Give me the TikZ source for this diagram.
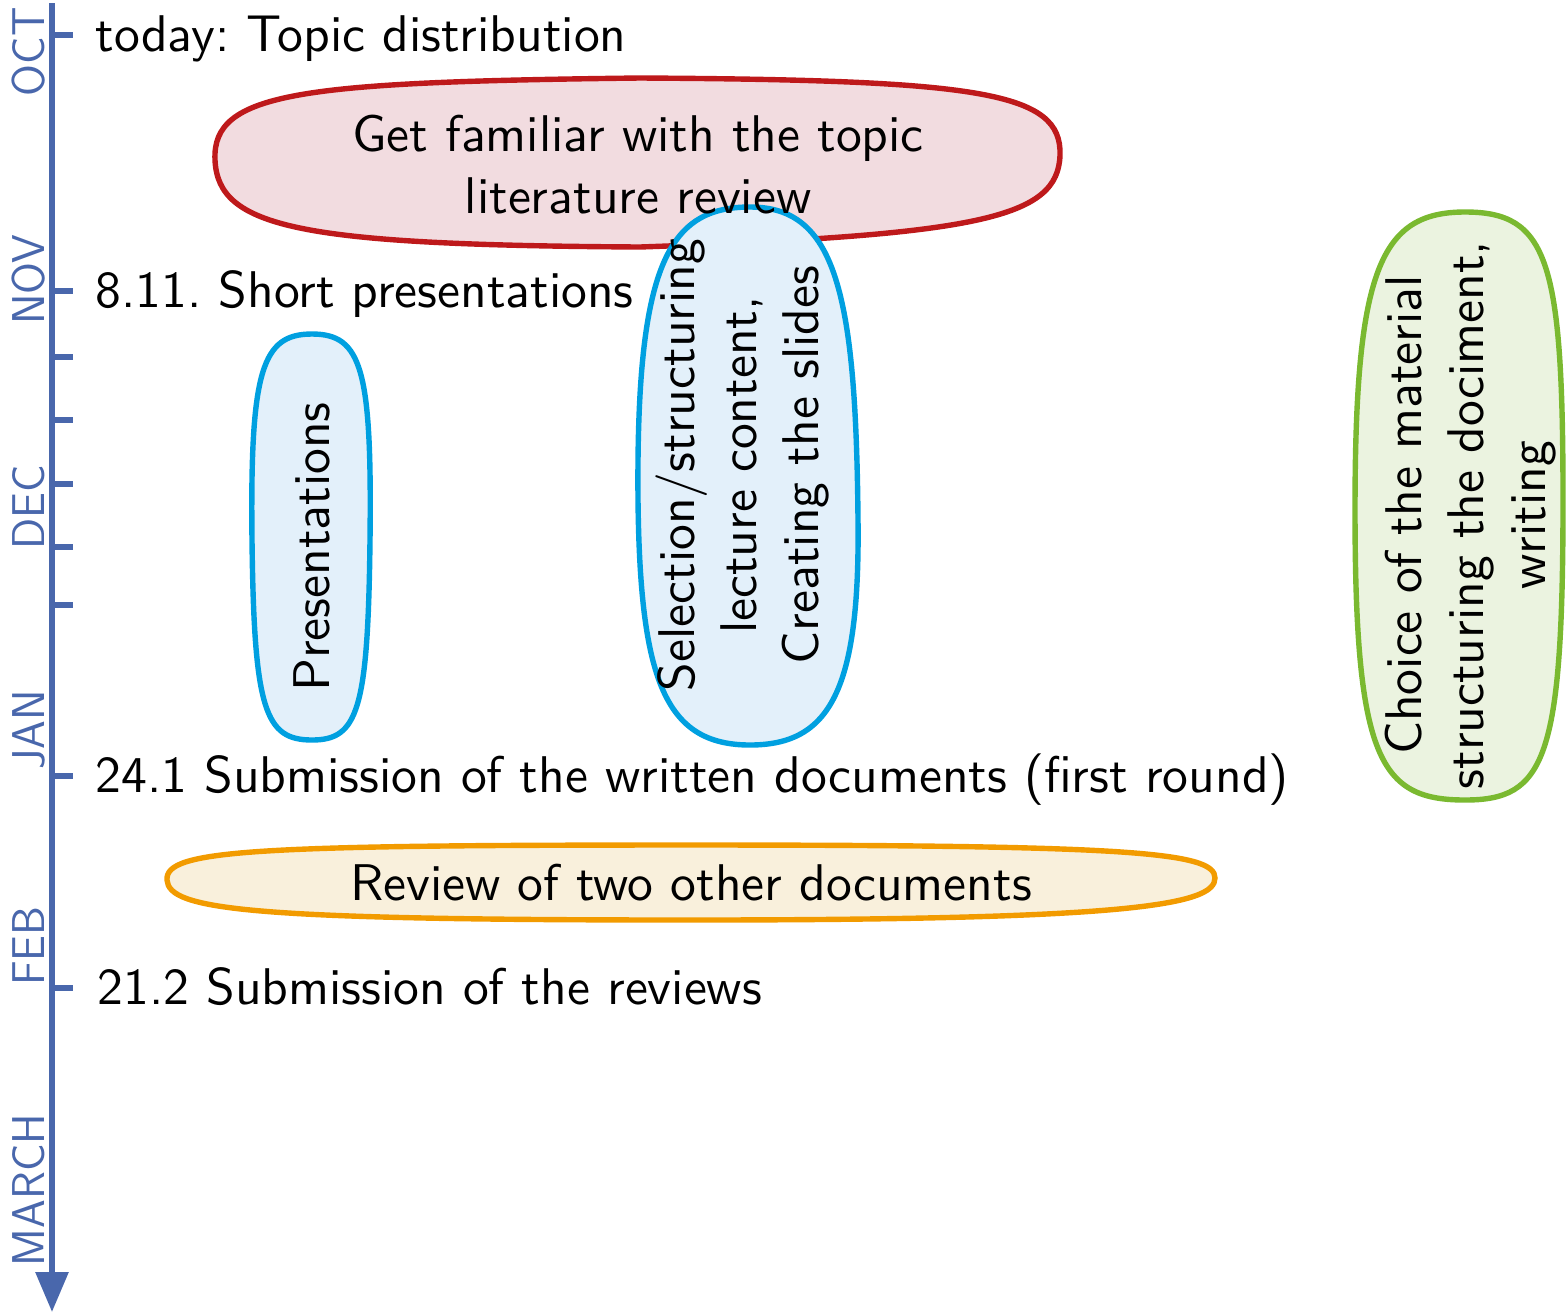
\documentclass[tikz,border=0pt]{standalone}
\usepackage{fontspec}
\newfontfamily\tenss{lmsans10-regular}[Extension=.otf]
\usetikzlibrary{arrows.meta}
\definecolor{axisblue}{RGB}{73,103,172}
\definecolor{redline}{RGB}{190,25,27}
\definecolor{redfill}{RGB}{242,220,224}
\definecolor{blueline}{RGB}{0,160,224}
\definecolor{bluefill}{RGB}{227,240,250}
\definecolor{greenline}{RGB}{122,185,48}
\definecolor{greenfill}{RGB}{235,243,224}
\definecolor{orangeline}{RGB}{242,155,0}
\definecolor{orangefill}{RGB}{249,240,220}
\tikzset{
  axisline/.style={draw=axisblue, line width=3pt},
  month/.style={text=axisblue, rotate=90, inner sep=0pt, font=\sffamily\fontsize{23}{28}\selectfont},
  event/.style={anchor=base west, inner sep=0pt, font=\tenss\fontsize{25.8}{30}\selectfont\frenchspacing},
  blob/.style={line width=2.7pt},
  blobtext/.style={align=center, inner sep=0pt, font=\tenss\fontsize{25.8}{31}\selectfont},
}
\begin{document}
\begin{tikzpicture}[x=0.5pt,y=-0.5pt]
\useasboundingbox (0,0) rectangle (1567,1313);

% axis
\coordinate (axtop) at (52,3);
\coordinate (axbot) at (52,1312);
\draw[axisline, -{Triangle[length=20pt,width=16pt]}] (axtop) -- (axbot);
\foreach \y in {35,291,357,420,484,547,605,776,988}
  \draw[axisline] (50,\y) -- (73,\y);

% month labels
\node[month] (oct) at (29,52) {OCT};
\node[month] (nov) at (29,280) {NOV};
\node[month] (dec) at (29,507) {DEC};
\node[month] (jan) at (29,730) {JAN};
\node[month] (feb) at (29,946) {FEB};
\node[month] (mar) at (29,1190) {MARCH};

% events
\node[event] (e1) at (95,51) {today: Topic distribution};
\node[event] (e2) at (95,307) {8.11. Short presentations};
\node[event] (e3) at (95,792) {24.1 Submission of the written documents (first round)};
\node[event] (e4) at (97,1004) {21.2 Submission of the reviews};

% red blob
\draw[blob, draw=redline, fill=redfill] (215,160) .. controls (212,92) and (300,82) .. (640,78)
  .. controls (980,80) and (1062,92) .. (1060,155)
  .. controls (1058,218) and (980,235) .. (640,247)
  .. controls (300,245) and (218,228) .. (215,160) -- cycle;
% blue selection blob
\draw[blob, draw=blueline, fill=bluefill] (638,500) .. controls (636,265) and (668,207) .. (750,207)
  .. controls (835,207) and (856,290) .. (858,520)
  .. controls (860,690) and (830,745) .. (750,745)
  .. controls (665,745) and (640,680) .. (638,500) -- cycle;
% blue presentations blob
\draw[blob, draw=blueline, fill=bluefill] (252,540) .. controls (250,370) and (262,334) .. (312,334)
  .. controls (362,334) and (372,370) .. (370,540)
  .. controls (368,710) and (358,740) .. (312,740)
  .. controls (265,740) and (254,710) .. (252,540) -- cycle;
% green blob
\draw[blob, draw=greenline, fill=greenfill] (1355,510) .. controls (1355,270) and (1380,212) .. (1465,212)
  .. controls (1548,212) and (1563,260) .. (1563,500)
  .. controls (1563,760) and (1545,800) .. (1465,800)
  .. controls (1380,800) and (1355,760) .. (1355,510) -- cycle;
% orange blob
\draw[blob, draw=orangeline, fill=orangefill] (167,880) .. controls (165,850) and (250,845) .. (690,845)
  .. controls (1130,845) and (1215,852) .. (1215,878)
  .. controls (1215,905) and (1130,920) .. (690,920)
  .. controls (250,920) and (169,910) .. (167,880) -- cycle;

% blob texts
\node[blobtext] (familiar) at (638,165) {Get familiar with the topic\\literature review};
\node[blobtext, rotate=90] (pres) at (312,547) {Presentations};
\node[blobtext, rotate=90] (select) at (742,465) {Selection/structuring\\lecture content,\\Creating the slides};
\node[blobtext, rotate=90] (choice) at (1471,515) {Choice of the material\\structuring the dociment,\\writing};
\node[blobtext] (review) at (691,883) {Review of two other documents};
\end{tikzpicture}
\end{document}
